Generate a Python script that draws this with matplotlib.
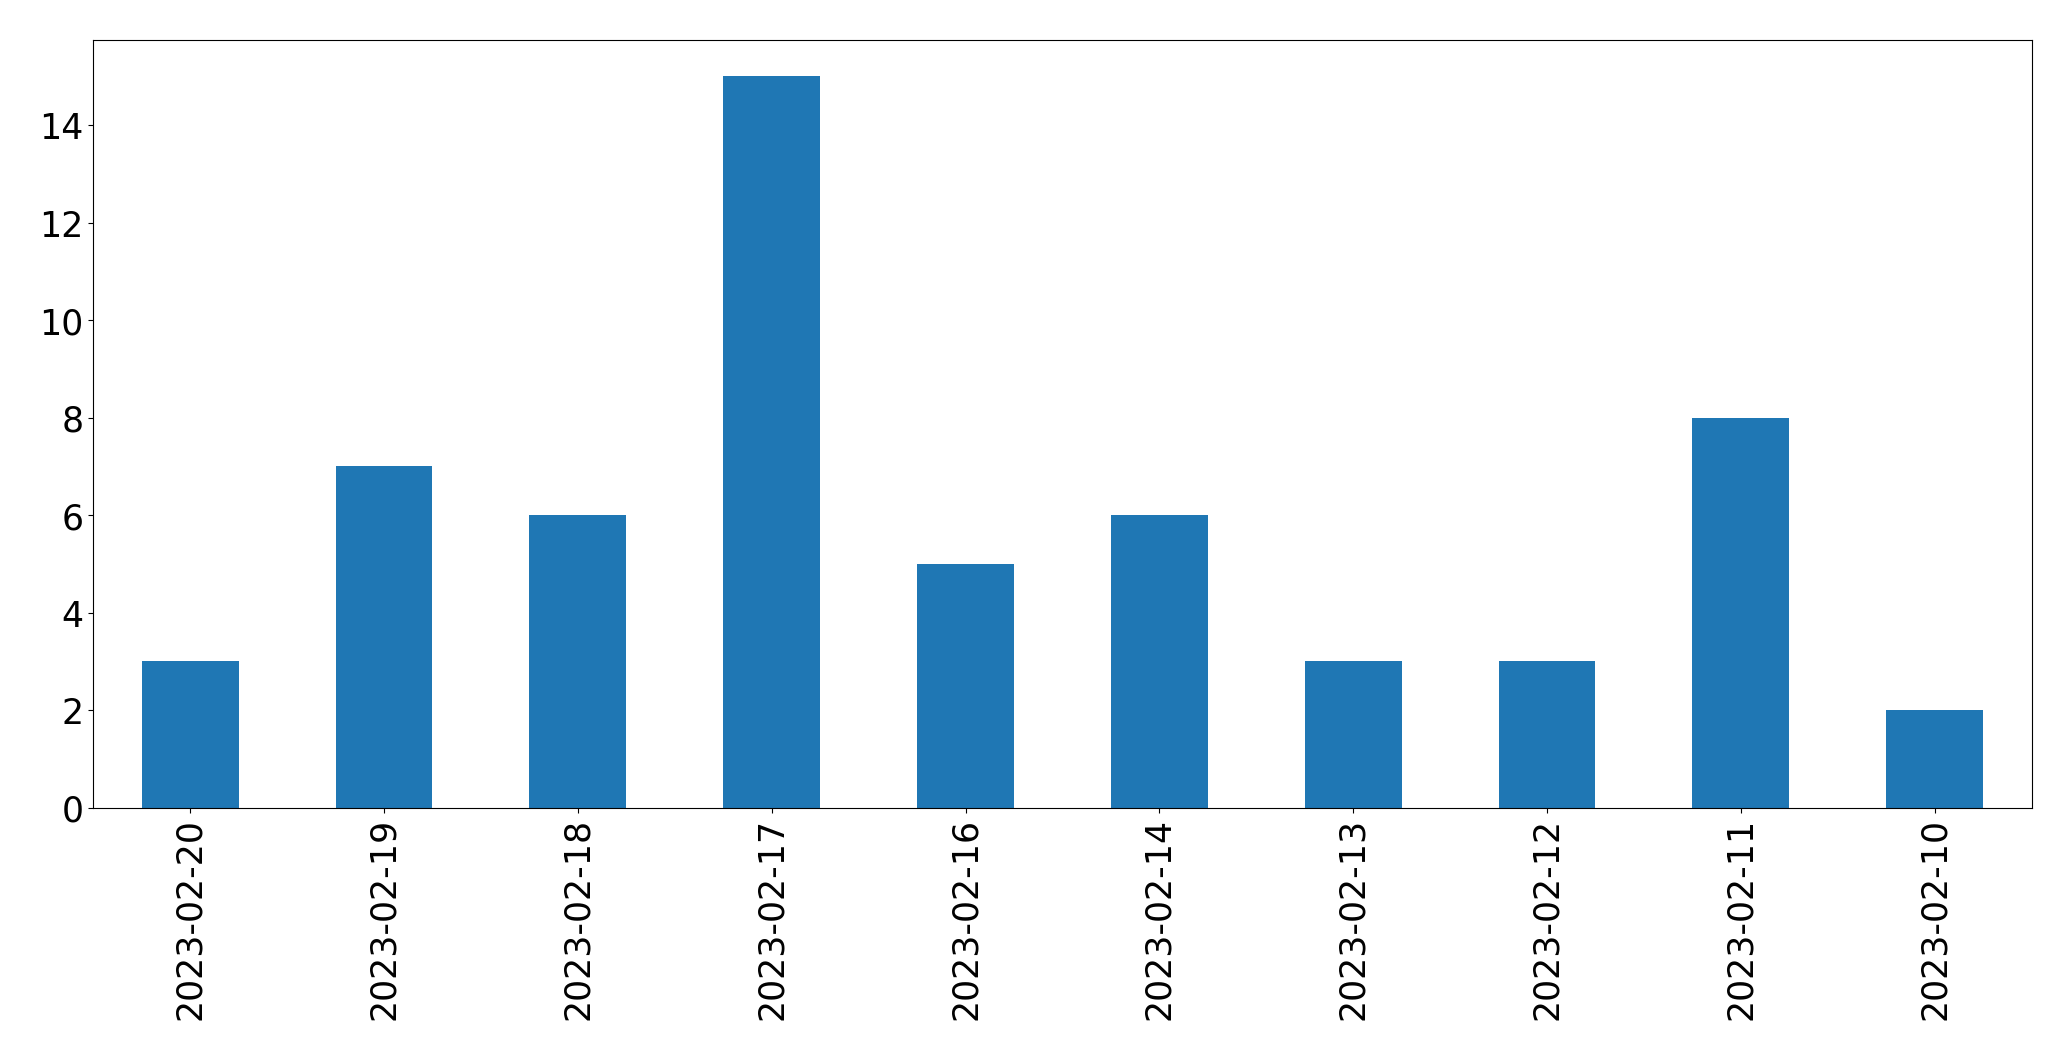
import matplotlib
matplotlib.use('Agg')
import matplotlib.pyplot as plt
import numpy as np

dates = ['2023-02-20', '2023-02-19', '2023-02-18', '2023-02-17', '2023-02-16',
         '2023-02-14', '2023-02-13', '2023-02-12', '2023-02-11', '2023-02-10']
counts = [3, 7, 6, 15, 5, 6, 3, 3, 8, 2]

fig, ax = plt.subplots(figsize=(20.71, 10.605), dpi=100)
fig.subplots_adjust(left=0.045, right=0.981, top=0.962, bottom=0.238)

x_pos = np.arange(len(dates))
ax.bar(x_pos, counts, width=0.5, color='#1f77b4')
ax.set_xticks(x_pos)
ax.set_xticklabels(dates, rotation=90)
ax.set_xlim(-0.5, len(dates) - 0.5)
ax.tick_params(axis='both', labelsize=25)

fig.savefig('out.png', dpi=100)
